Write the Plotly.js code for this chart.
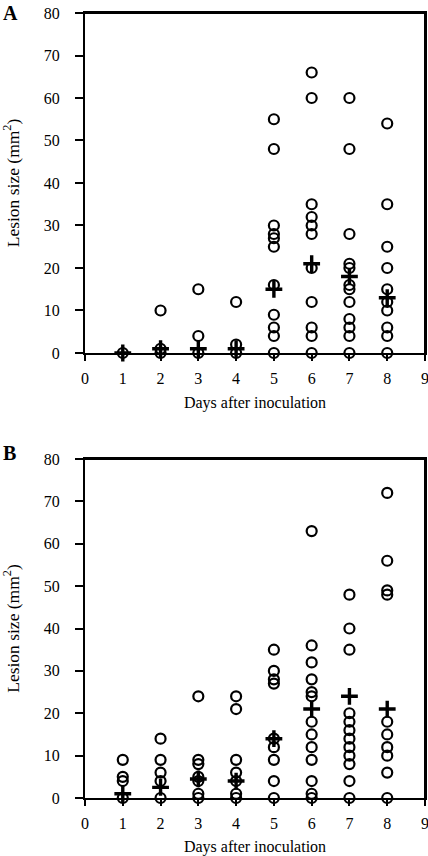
<!DOCTYPE html>
<html>
<head>
<meta charset="utf-8">
<script src="https://cdn.plot.ly/plotly-3.0.1.min.js"></script>
<style>
html,body{margin:0;padding:0;background:#fff;}
#chart{width:428px;height:856px;position:relative;}
</style>
</head>
<body>
<div id="chart"></div>
<script>
// Days after inoculation
const days = [1, 2, 3, 4, 5, 6, 7, 8];

// Panel A: individual lesion sizes (mm2) per day
const panelA_day1 = [0];
const panelA_day2 = [10, 1, 0];
const panelA_day3 = [15, 4, 0];
const panelA_day4 = [12, 2, 0];
const panelA_day5 = [55, 48, 30, 28, 27, 25, 16, 9, 6, 4, 0];
const panelA_day6 = [66, 60, 35, 32, 30, 28, 20, 12, 6, 4, 0];
const panelA_day7 = [60, 48, 28, 21, 20, 16, 15, 12, 8, 6, 4, 0];
const panelA_day8 = [54, 35, 25, 20, 15, 12, 10, 6, 4, 0];
const panelA_means = [0, 1, 1, 1, 15, 21, 18, 13];

// Panel B: individual lesion sizes (mm2) per day
const panelB_day1 = [9, 5, 4, 0];
const panelB_day2 = [14, 9, 6, 4, 0];
const panelB_day3 = [24, 9, 8, 5, 4, 1, 0];
const panelB_day4 = [24, 21, 9, 6, 4, 1, 0];
const panelB_day5 = [35, 30, 28, 27, 14, 12, 9, 4, 0];
const panelB_day6 = [63, 36, 32, 28, 25, 24, 18, 15, 12, 9, 4, 1, 0];
const panelB_day7 = [48, 40, 35, 20, 18, 16, 14, 12, 10, 8, 4, 0];
const panelB_day8 = [72, 56, 49, 48, 18, 15, 12, 10, 6, 0];
const panelB_means = [1, 2.5, 4.5, 4, 14, 21, 24, 21];

// Axis settings
const xRange = [0, 9];
const yRange = [0, 80];
const xTickVals = [0, 1, 2, 3, 4, 5, 6, 7, 8, 9];
const yTickVals = [0, 10, 20, 30, 40, 50, 60, 70, 80];
const xTitle = 'Days after inoculation';
const yTitle = 'Lesion size (mm<sup>2</sup>)';
const panelLabels = ['A', 'B'];

const panelA = [panelA_day1, panelA_day2, panelA_day3, panelA_day4, panelA_day5, panelA_day6, panelA_day7, panelA_day8];
const panelB = [panelB_day1, panelB_day2, panelB_day3, panelB_day4, panelB_day5, panelB_day6, panelB_day7, panelB_day8];

function flatten(groups) {
  const xs = [], ys = [];
  groups.forEach((vals, i) => vals.forEach(v => { xs.push(days[i]); ys.push(v); }));
  return {xs, ys};
}

const fA = flatten(panelA), fB = flatten(panelB);

const circleMarker = {symbol: 'circle-open', size: 10, color: '#000', line: {width: 2.2, color: '#000'}};
const plusMarker = {symbol: 'cross-thin-open', size: 12, color: '#000', line: {width: 3.4, color: '#000'}};

const traces = [
  {x: fA.xs, y: fA.ys, xaxis: 'x', yaxis: 'y', mode: 'markers', type: 'scatter', marker: circleMarker, cliponaxis: false, showlegend: false, hoverinfo: 'skip'},
  {x: days, y: panelA_means, xaxis: 'x', yaxis: 'y', mode: 'markers', type: 'scatter', marker: plusMarker, cliponaxis: false, showlegend: false, hoverinfo: 'skip'},
  {x: fB.xs, y: fB.ys, xaxis: 'x2', yaxis: 'y2', mode: 'markers', type: 'scatter', marker: circleMarker, cliponaxis: false, showlegend: false, hoverinfo: 'skip'},
  {x: days, y: panelB_means, xaxis: 'x2', yaxis: 'y2', mode: 'markers', type: 'scatter', marker: plusMarker, cliponaxis: false, showlegend: false, hoverinfo: 'skip'}
];

const fam = '"Liberation Serif", "Times New Roman", serif';
const font = {family: fam, color: '#000'};

function xAxis(anchor) {
  return {
    anchor: anchor, domain: [0, 1], range: xRange, tickvals: xTickVals,
    showgrid: false, zeroline: false, showline: true, linecolor: '#000', linewidth: 2,
    mirror: true,
    ticks: 'outside', ticklen: 6, tickwidth: 2, tickcolor: '#000',
    tickfont: {family: fam, size: 16, color: '#000'},
    ticklabelstandoff: 4,
    ticklabeloverflow: 'allow',
    title: {text: xTitle, font: {family: fam, size: 16, color: '#000'}, standoff: 11},
    fixedrange: true
  };
}
function yAxis(anchor, domain) {
  return {
    anchor: anchor, domain: domain, range: yRange, tickvals: yTickVals,
    showgrid: false, zeroline: false, showline: true, linecolor: '#000', linewidth: 2,
    mirror: true,
    ticks: 'outside', ticklen: 8, tickwidth: 2, tickcolor: '#000',
    tickfont: {family: fam, size: 16, color: '#000'},
    ticklabelstandoff: 12,
    ticklabeloverflow: 'allow',
    title: {text: yTitle, font: {family: fam, size: 17.5, color: '#000'}, standoff: 20},
    fixedrange: true
  };
}

const yA = [0.5669, 1], yB = [0, 0.4318];

const layout = {
  width: 428, height: 856,
  margin: {l: 85, r: 3, t: 13, b: 58},
  paper_bgcolor: '#fff', plot_bgcolor: '#fff',
  font: font,
  showlegend: false,
  xaxis: xAxis('y'),
  yaxis: yAxis('x', yA),
  xaxis2: xAxis('y2'),
  yaxis2: yAxis('x2', yB),
  annotations: [
    {text: '<b>' + panelLabels[0] + '</b>', xref: 'paper', yref: 'paper', x: -0.247, y: yA[1], xanchor: 'left', yanchor: 'middle', showarrow: false, font: {family: fam, size: 20, color: '#000'}},
    {text: '<b>' + panelLabels[1] + '</b>', xref: 'paper', yref: 'paper', x: -0.247, y: 0.4395, xanchor: 'left', yanchor: 'middle', showarrow: false, font: {family: fam, size: 20, color: '#000'}}
  ]
};

const container = document.getElementById('chart');
Plotly.newPlot(container, traces, layout, {displayModeBar: false, staticPlot: true}).then(gd => {
  // top and right frame of each panel, placed from Plotly's own computed axis geometry
  const fl = gd._fullLayout;
  [['xaxis', 'yaxis'], ['xaxis2', 'yaxis2']].forEach(([xk, yk]) => {
    const xa = fl[xk], ya = fl[yk];
    const d = document.createElement('div');
    d.style.position = 'absolute';
    d.style.left = xa._offset + 'px';
    d.style.top = (ya._offset - 1) + 'px';
    d.style.width = (xa._length + 1) + 'px';
    d.style.height = (ya._length + 1) + 'px';
    d.style.borderTop = '2px solid #000';
    d.style.borderRight = '2px solid #000';
    d.style.boxSizing = 'border-box';
    d.style.pointerEvents = 'none';
    container.appendChild(d);
  });
});
</script>
</body>
</html>
